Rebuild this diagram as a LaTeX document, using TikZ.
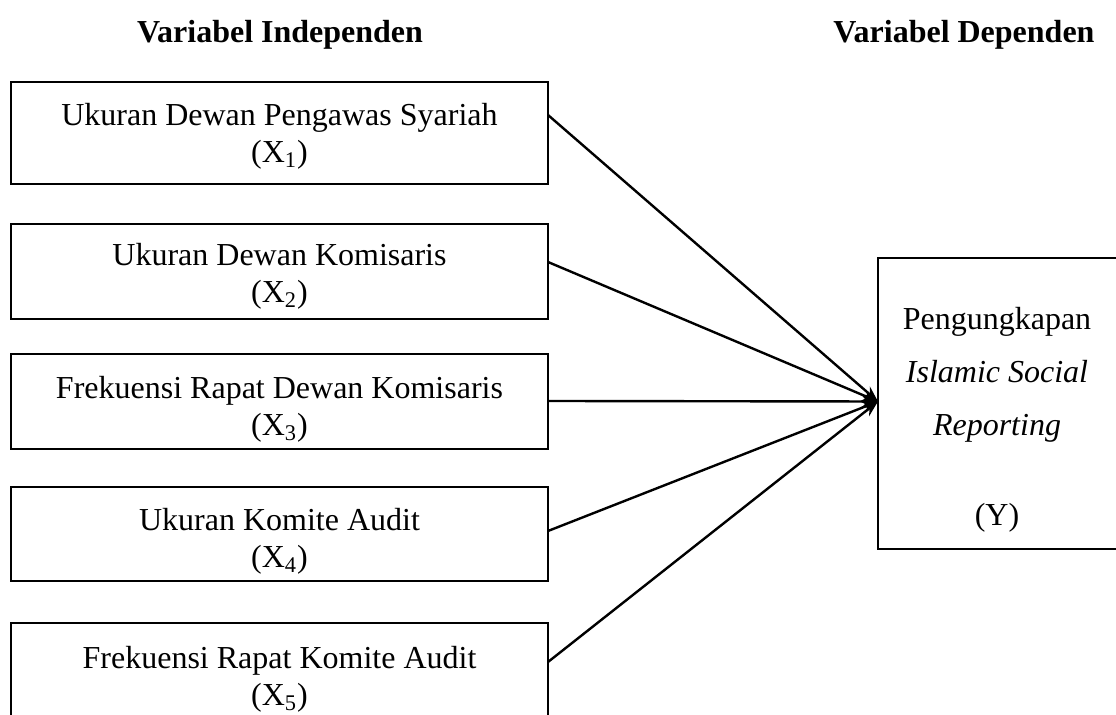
\documentclass[tikz,border=0pt]{standalone}
\usepackage{fontspec}
\setmainfont{Liberation Serif}
\usetikzlibrary{arrows.meta}
\begin{document}
\begin{tikzpicture}[x=0.5pt,y=-0.5pt,
  varbox/.style={draw,line width=1pt,inner sep=0pt,outer sep=0pt,
    minimum width=268.5pt},
  vartext/.style={align=center,inner sep=0pt,
    font=\fontsize{16}{18.5}\selectfont},
  ybox/.style={draw,line width=1pt,inner sep=0pt,outer sep=0pt,
    minimum width=125pt,minimum height=145.5pt},
  ytext/.style={align=center,inner sep=0pt,font=\fontsize{16}{26.5}\selectfont},
  head/.style={font=\fontsize{16}{18.5}\selectfont\bfseries,inner sep=0pt},
  conn/.style={line width=1.2pt,-{Stealth[length=8pt,width=6pt]}}]
\useasboundingbox (0,0) rectangle (1116,715);
\clip (0,0) rectangle (1116,715);
\node[head] (h1) at (280,35) {Variabel Independen};
\node[head] (h2) at (964,35) {Variabel Dependen};

\node[varbox,minimum height=51pt] (b1) at (279.5,133) {};
\node[varbox,minimum height=47.5pt] (b2) at (279.5,271.5) {};
\node[varbox,minimum height=47.5pt] (b3) at (279.5,401.5) {};
\node[varbox,minimum height=47pt] (b4) at (279.5,534) {};
\node[varbox,minimum height=53pt] (b5) at (279.5,676) {};

\node[vartext] (t1) at (279.5,136.5) {Ukuran Dewan Pengawas Syariah\\(X\textsubscript{1})};
\node[vartext] (t2) at (279.5,276.5) {Ukuran Dewan Komisaris\\(X\textsubscript{2})};
\node[vartext] (t3) at (279.5,409.5) {Frekuensi Rapat Dewan Komisaris\\(X\textsubscript{3})};
\node[vartext] (t4) at (279.5,541.5) {Ukuran Komite Audit\\(X\textsubscript{4})};
\node[vartext] (t5) at (279.5,679) {Frekuensi Rapat Komite Audit\\(X\textsubscript{5})};

\node[ybox] (y) at (1003,403.5) {};
\node[ytext] (yt) at (997,420) {Pengungkapan\\\textit{Islamic Social}\\\textit{Reporting}\\[18.5pt](Y)};

\coordinate (tip) at ([yshift=1pt]y.west);
\draw[conn] ([yshift=9pt]b1.east) -- (tip);
\draw[conn] ([yshift=4.75pt]b2.east) -- (tip);
\draw[conn] ([yshift=0.25pt]b3.east) -- (tip);
\draw[conn] ([yshift=1.5pt]b4.east) -- (tip);
\draw[conn] ([yshift=7pt]b5.east) -- (tip);
\end{tikzpicture}
\end{document}
